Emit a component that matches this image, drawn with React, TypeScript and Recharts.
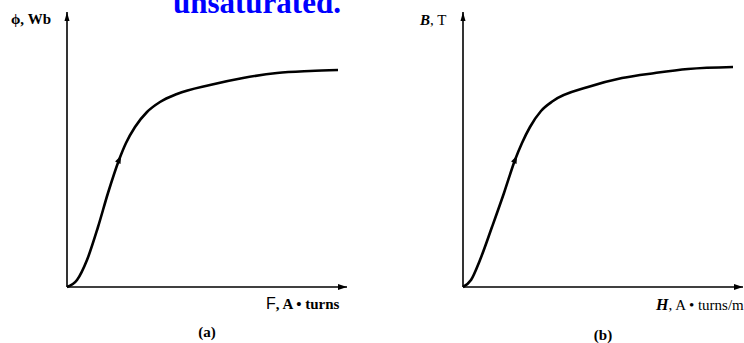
import { LineChart, Line, XAxis, YAxis, ReferenceLine, ReferenceDot } from "recharts";

// curve (a): flux vs magnetomotive force, arbitrary units
const fluxF = [0, 10, 20, 31, 41, 52, 59, 68, 80, 93, 110, 143, 176, 210, 243, 271];
const fluxPhi = [0, 7, 27, 60, 94, 127, 144, 160, 175, 185, 193, 202, 209, 214, 216, 217];

// curve (b): flux density vs field intensity
const densH = [0, 8, 17, 29, 41, 52, 59, 67, 78, 90, 125, 159, 192, 225, 270];
const densB = [0, 7, 27, 60, 94, 127, 144, 160, 176, 186, 200, 209, 214, 218, 220];

// point where the small direction arrow sits on each curve
const arrowIndex = 5;

const X_MAX = 280;
const Y_MAX = 275;

const serif = "'Liberation Serif', 'Times New Roman', serif";
const sans = "'Liberation Sans', Arial, sans-serif";

type Pt = { x: number; y: number; arrow?: boolean };

function toPoints(xs: number[], ys: number[]): Pt[] {
  return xs.map((x, i) => ({ x, y: ys[i], arrow: i === arrowIndex }));
}

const curveDot = (props: any) => {
  const { cx, cy, payload, index } = props;
  if (!payload?.arrow) return <g key={index} />;
  return (
    <path
      key={index}
      d="M 5 0 L -3 -3 L -3 3 Z"
      transform={`translate(${cx},${cy}) rotate(-66)`}
      fill="#000"
    />
  );
};

const arrowRight = (props: any) => (
  <path d={`M ${props.cx} ${props.cy} l -9 -3 l 0 6 Z`} fill="#000" />
);
const arrowUp = (props: any) => (
  <path d={`M ${props.cx} ${props.cy} l -2.5 9 l 5 0 Z`} fill="#000" />
);

function Panel({ data, left, marginLeft, marginRight }: { data: Pt[]; left: number; marginLeft: number; marginRight: number }) {
  return (
    <div style={{ position: "absolute", left, top: 0 }}>
      <LineChart
        width={372}
        height={343}
        data={data}
        margin={{ top: 12, right: marginRight, bottom: 56, left: marginLeft }}
      >
        <XAxis type="number" dataKey="x" domain={[0, X_MAX]} hide />
        <YAxis type="number" domain={[0, Y_MAX]} hide />
        <ReferenceLine x={0} stroke="#000" strokeWidth={1.6} />
        <ReferenceLine y={0} stroke="#000" strokeWidth={1.6} />
        <ReferenceDot x={X_MAX} y={0} r={0} shape={arrowRight} />
        <ReferenceDot x={0} y={Y_MAX} r={0} shape={arrowUp} />
        <Line
          type="monotone"
          dataKey="y"
          stroke="#000"
          strokeWidth={2.6}
          dot={curveDot}
          activeDot={false}
          isAnimationActive={false}
        />
      </LineChart>
    </div>
  );
}

export default function App() {
  return (
    <div style={{ position: "absolute", left: 0, top: 0, width: 744, height: 343, background: "#fff", overflow: "hidden" }}>
      <Panel data={toPoints(fluxF, fluxPhi)} left={0} marginLeft={67} marginRight={25} />
      <Panel data={toPoints(densH, densB)} left={372} marginLeft={91} marginRight={1} />
      <svg width={744} height={343} style={{ position: "absolute", left: 0, top: 0, pointerEvents: "none" }}>
        <text x={173} y={13} fontFamily={serif} fontWeight="bold" fontSize={31} fill="#0000ff">
          unsaturated.
        </text>
        <text x={11} y={24} fontFamily={serif} fontWeight="bold" fontSize={15} fill="#000">
          ϕ, Wb
        </text>
        <text x={420} y={25} fontFamily={serif} fontSize={15} fill="#000">
          <tspan fontWeight="bold" fontStyle="italic">B</tspan>, T
        </text>
        <text x={266} y={309} fontFamily={serif} fontWeight="bold" fontSize={15} fill="#000">
          <tspan fontFamily={sans} fontWeight="normal" fontSize={16}>F</tspan>, A • turns
        </text>
        <text x={207} y={337} textAnchor="middle" fontFamily={serif} fontWeight="bold" fontSize={15} fill="#000">
          (a)
        </text>
        <text x={656} y={310} fontFamily={serif} fontSize={15} fill="#000">
          <tspan fontWeight="bold" fontStyle="italic" fontSize={16}>H</tspan>, A • turns/m
        </text>
        <text x={603} y={340} textAnchor="middle" fontFamily={serif} fontWeight="bold" fontSize={15} fill="#000">
          (b)
        </text>
      </svg>
    </div>
  );
}
